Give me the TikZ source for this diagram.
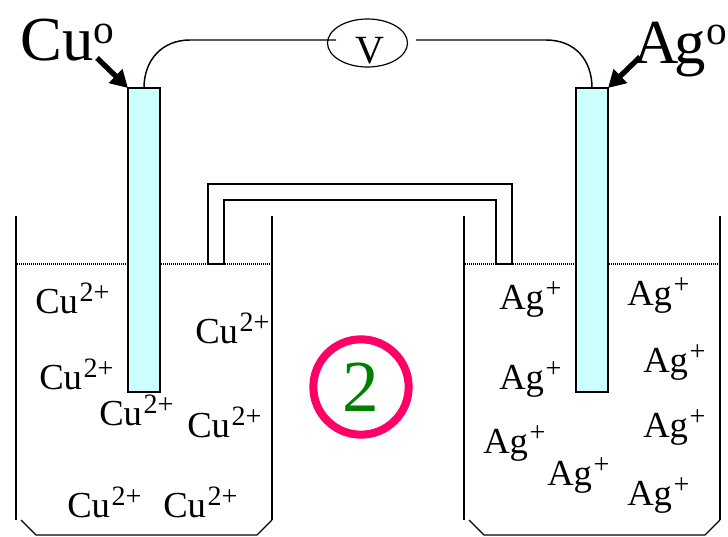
\documentclass[tikz,border=0pt]{standalone}
\usepackage{fontspec}
\setmainfont{Liberation Serif}
\usetikzlibrary{arrows.meta,shapes.geometric}
\definecolor{metal}{HTML}{CCFFFF}
\definecolor{ringc}{HTML}{FF0066}
\definecolor{numc}{HTML}{008000}
\newcommand{\ionsup}[1]{\kern0.04em\raisebox{0.31em}{\fontsize{21}{21}\selectfont #1}}
\tikzset{
  wall/.style={line width=1.2pt,black},
  rim/.style={line width=1pt,black},
  level/.style={line width=0.9pt,black,dash pattern=on 0.75pt off 0.75pt},
  electrode/.style={draw=black,fill=metal,line width=1.3pt},
  wire/.style={line width=1.1pt,black},
  bridge/.style={line width=1.3pt,black},
  pointer/.style={line width=4pt,black,-{Triangle[length=13pt,width=14pt]}},
  ion/.style={anchor=base west,inner sep=0pt,xshift=-0.75pt,font=\fontsize{27.5}{27.5}\selectfont},
  big/.style={anchor=base west,inner sep=0pt,font=\fontsize{47}{47}\selectfont},
}
\begin{document}
\begin{tikzpicture}[x=0.75pt,y=-0.75pt]
\useasboundingbox (0,0) rectangle (728,536);
% liquid levels
\coordinate (l1) at (17,264); \coordinate (l2) at (272,264);
\coordinate (r1) at (465,264); \coordinate (r2) at (720,264);
\draw[level] (l1) -- (l2);
\draw[level] (r1) -- (r2);
% beakers
\draw[wall] (16,216) -- (16,520);
\draw[wall] (272,216) -- (272,520);
\draw[rim] (21,520) -- (36,535) -- (257,535) -- (272,520);
\draw[wall] (464,216) -- (464,520);
\draw[wall] (720,216) -- (720,520);
\draw[rim] (469,520) -- (484,535) -- (705,535) -- (720,520);
% electrodes
\node[electrode,minimum width=24pt,minimum height=228pt,inner sep=0pt,outer sep=0pt] (cu) at (144,240) {};
\node[electrode,minimum width=24pt,minimum height=228pt,inner sep=0pt,outer sep=0pt] (ag) at (592,240) {};
% salt bridge
\draw[bridge,fill=white] (208,264) -- (208,184) -- (512,184) -- (512,264) -- (496,264) -- (496,200) -- (224,200) -- (224,264) -- cycle;
% voltmeter
\node[draw=black,line width=0.9pt,ellipse,minimum width=60pt,minimum height=36pt,inner sep=0pt] (v) at (367.5,43) {};
\node[anchor=base,inner sep=0pt,font=\fontsize{30}{30}\selectfont] (vt) at (370,63) {V};
\coordinate (wl) at (336,40);
\coordinate (wr) at (416,40);
\draw[wire] (cu.north) .. controls (144,60) and (162,40) .. (190,40) -- (wl);
\draw[wire] (wr) -- (546,40) .. controls (575,40) and (592,60) .. (ag.north);
% labels
\node[big] (cul) at (20,60) {Cu\raisebox{0.27em}{\fontsize{31}{31}\selectfont o}};
\node[big] (agl) at (633,63) {A\kern-0.06em g\raisebox{0.3em}{\fontsize{31}{31}\selectfont o}};
\coordinate (cuarrow) at (97,58);
\coordinate (agarrow) at (640,57);
\draw[pointer] (cuarrow) -- (cu.north west);
\draw[pointer] (agarrow) -- (ag.north east);
% Cu ions
\node[ion] (c1) at (36,313) {Cu\ionsup{2+}};
\node[ion] (c2) at (196,343) {Cu\ionsup{2+}};
\node[ion] (c3) at (40,389) {Cu\ionsup{2+}};
\node[ion] (c4) at (100,425) {Cu\ionsup{2+}};
\node[ion] (c5) at (188,437) {Cu\ionsup{2+}};
\node[ion] (c6) at (68,517) {Cu\ionsup{2+}};
\node[ion] (c7) at (164,517) {Cu\ionsup{2+}};
% Ag ions
\node[ion] (a1) at (500,309) {Ag\ionsup{+}};
\node[ion] (a2) at (628,305) {Ag\ionsup{+}};
\node[ion] (a3) at (644,372) {Ag\ionsup{+}};
\node[ion] (a4) at (500,389) {Ag\ionsup{+}};
\node[ion] (a5) at (644,437) {Ag\ionsup{+}};
\node[ion] (a6) at (484,453) {Ag\ionsup{+}};
\node[ion] (a7) at (548,485) {Ag\ionsup{+}};
\node[ion] (a8) at (628,505) {Ag\ionsup{+}};
% circled number
\node[circle,draw=ringc,line width=6pt,minimum width=71.5pt,inner sep=0pt,text=numc,font=\fontsize{55}{55}\selectfont] (n) at (361,387) {2};
\end{tikzpicture}
\end{document}
